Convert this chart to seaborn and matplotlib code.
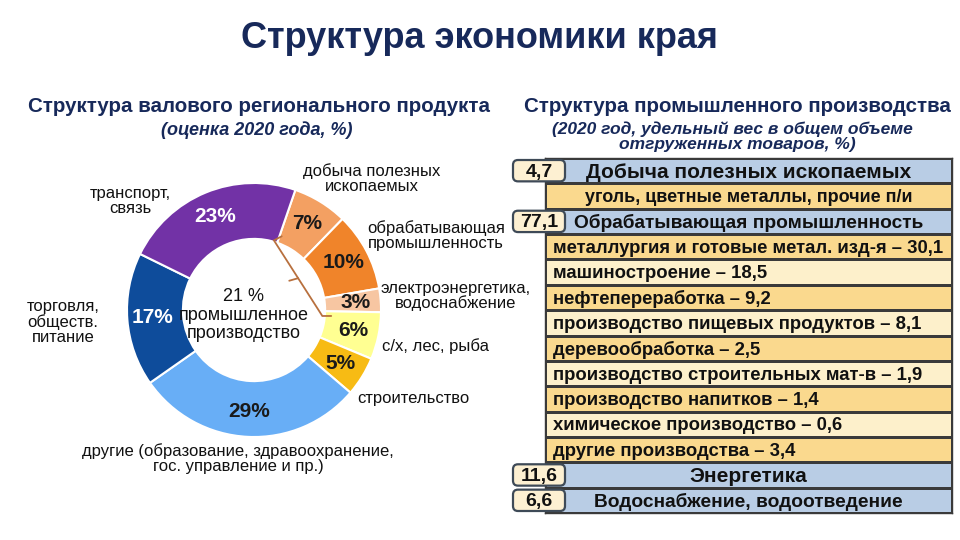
import numpy as np
import matplotlib
matplotlib.use('Agg')
import matplotlib.pyplot as plt
import seaborn as sns
from matplotlib.colors import ListedColormap
from matplotlib.patches import FancyBboxPatch

# --- data: структура ВРП (оценка 2020, %)
gdp_labels = ['добыча полезных\nископаемых', 'обрабатывающая\nпромышленность',
              'электроэнергетика,\nводоснабжение', 'с/х, лес, рыба', 'строительство',
              'другие (образование, здравоохранение,\nгос. управление и пр.)',
              'торговля,\nобществ.\nпитание', 'транспорт,\nсвязь']
gdp_share = [7, 10, 3, 6, 5, 29, 17, 23]
industry_total = 21

# --- data: структура промышленного производства (2020, %)
ind_rows = ['Добыча полезных ископаемых', 'уголь, цветные металлы, прочие п/и',
            'Обрабатывающая промышленность', 'металлургия и готовые метал. изд-я',
            'машиностроение', 'нефтепереработка', 'производство пищевых продуктов',
            'деревообработка', 'производство строительных мат-в', 'производство напитков',
            'химическое производство', 'другие производства', 'Энергетика',
            'Водоснабжение, водоотведение']
ind_values = [4.7, None, 77.1, 30.1, 18.5, 9.2, 8.1, 2.5, 1.9, 1.4, 0.6, 3.4, 11.6, 6.6]
ind_kind = ['section', 'note', 'section', 'sub', 'sub', 'sub', 'sub', 'sub', 'sub',
            'sub', 'sub', 'sub', 'section', 'section']

# --- styles
navy = '#17295A'
gdp_colors = ['#F3A062', '#F0842A', '#F7C6A2', '#FFFF92', '#F7BB14',
              '#68AEF6', '#0E4C9B', '#7232A6']
pct_colors = ['#1a1a1a'] * 6 + ['white', 'white']
label_pos = [(372, 179), (436, 236), (456, 296), (436, 346), (413, 399),
             (238, 459), (63, 322), (130, 201)]
row_cmap = ListedColormap(['#B9CDE5', '#FAD98E', '#FDF0CB'])


def fmt(v):
    return f'{v:.1f}'.replace('.', ',')


sns.set_theme(style='white')
plt.rcParams['font.family'] = ['Liberation Sans', 'DejaVu Sans']

fig = plt.figure(figsize=(9.6, 5.4), dpi=100)
bg = fig.add_axes([0, 0, 1, 1])
bg.set_xlim(0, 960)
bg.set_ylim(540, 0)
bg.axis('off')


def px_axes(x0, y0, x1, y1):
    return fig.add_axes([x0 / 960, 1 - y1 / 540, (x1 - x0) / 960, (y1 - y0) / 540])


# titles
bg.text(479, 38, 'Структура экономики края', ha='center', va='center', fontsize=26,
        fontweight='bold', color=navy, family=['Liberation Sans Narrow', 'Liberation Sans'])
bg.text(259, 107, 'Структура валового регионального продукта', ha='center', va='center',
        fontsize=14.8, fontweight='bold', color=navy)
bg.text(257, 130, '(оценка 2020 года, %)', ha='center', va='center', fontsize=13,
        fontweight='bold', fontstyle='italic', color=navy)
bg.text(737, 107, 'Структура промышленного производства', ha='center', va='center',
        fontsize=14.8, fontweight='bold', color=navy)
bg.text(732, 129, '(2020 год, удельный вес в общем объеме', ha='center', va='center',
        fontsize=12.5, fontweight='bold', fontstyle='italic', color=navy)
bg.text(737, 145, 'отгруженных товаров, %)', ha='center', va='center',
        fontsize=12.5, fontweight='bold', fontstyle='italic', color=navy)

# donut
pax = px_axes(127, 183, 381, 437)
start = 71
ring = 0.44
wedges, texts, autotexts = pax.pie(
    gdp_share, colors=gdp_colors, startangle=start, counterclock=False, radius=1,
    wedgeprops=dict(width=ring, edgecolor='white', linewidth=1.5),
    autopct=lambda p: f'{p:.0f}%', pctdistance=0.8,
    textprops=dict(fontsize=15, fontweight='bold'))
for t, c in zip(autotexts, pct_colors):
    t.set_color(c)
pax.set_xlim(-1, 1)
pax.set_ylim(-1, 1)
pax.set_aspect('equal')
pax.axis('off')

pax.text(-0.08, -0.04, f'{industry_total} %\nпромышленное\nпроизводство', ha='center',
         va='center', fontsize=13, linespacing=1.1, color='#111111')

# bracket over industrial slices
r_in = 1 - ring
a1 = np.deg2rad(start + 3)
a2 = np.deg2rad(start - 360 * sum(gdp_share[:3]) / 100 - 4)
p1 = np.array([np.cos(a1), np.sin(a1)]) * (r_in + 0.01)
p2 = np.array([np.cos(a2), np.sin(a2)]) * (r_in - 0.02)
mid = (p1 + p2) / 2
tip = mid + np.array([-0.07, -0.02])
hook = np.array([np.cos(a1 - 0.08), np.sin(a1 - 0.08)]) * (r_in + 0.06)
bc = '#B8703E'
pax.plot([hook[0], p1[0], mid[0], p2[0], p2[0] + 0.07], [hook[1], p1[1], mid[1], p2[1], p2[1]],
         color=bc, lw=1.3, solid_joinstyle='miter')
pax.plot([mid[0], tip[0]], [mid[1], tip[1]], color=bc, lw=1.3)

for lab, (x, y) in zip(gdp_labels, label_pos):
    bg.text(x, y, lab, ha='center', va='center', fontsize=12, linespacing=1.0,
            color='#111111')

# industry table
top, bottom, left, right = 158, 513, 545, 952
tax = px_axes(left, top, right, bottom)
codes = [0 if k == 'section' else (1 if i % 2 else 2) for i, k in enumerate(ind_kind)]
sns.heatmap(np.array(codes)[:, None], cmap=row_cmap, vmin=-0.5, vmax=2.5, cbar=False,
            linewidths=1, linecolor='#3a3a3a', xticklabels=False, yticklabels=False, ax=tax)
for s in tax.spines.values():
    s.set_visible(True)
    s.set_color('#3a3a3a')
    s.set_linewidth(1)

fg = fig.add_axes([0, 0, 1, 1])
fg.set_xlim(0, 960)
fg.set_ylim(540, 0)
fg.axis('off')

row_h = (bottom - top) / len(ind_rows)
for i, (name, val, kind) in enumerate(zip(ind_rows, ind_values, ind_kind)):
    y = i + 0.56
    if kind == 'section':
        size = 15 if len(name) < 28 else 13.8
        tax.text(0.5, y, name, ha='center', va='center', fontsize=size, fontweight='bold',
                 color='#111111')
        y0 = top + i * row_h + 2
        box = FancyBboxPatch((513, y0), 52, row_h - 4,
                             boxstyle='round,pad=0,rounding_size=5',
                             fc='#FDF0D2', ec='#3E4A57', lw=1.6)
        fg.add_patch(box)
        fg.text(539, y0 + (row_h - 4) / 2 + 1.5, fmt(val), ha='center', va='center',
                fontsize=14, fontweight='bold', color='#111111')
    elif kind == 'note':
        tax.text(0.5, y, name, ha='center', va='center', fontsize=13, fontweight='bold',
                 color='#111111')
    else:
        tax.text(0.02, y, f'{name} – {fmt(val)}', ha='left', va='center', fontsize=13.3,
                 fontweight='bold', color='#111111')

fig.savefig('out.png', dpi=100)
